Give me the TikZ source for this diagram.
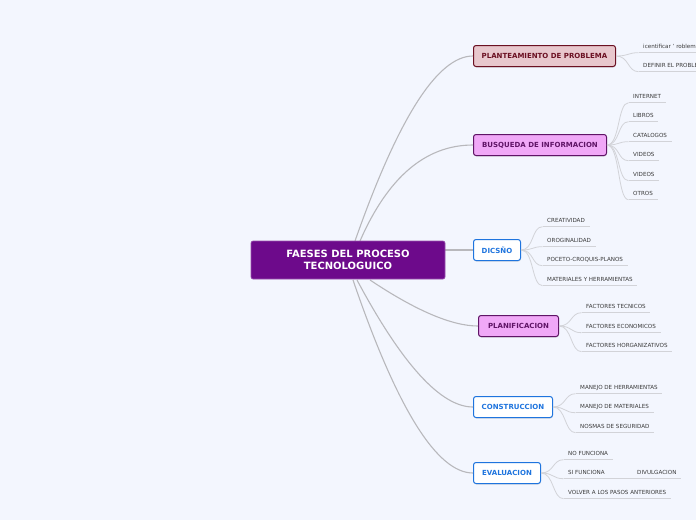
\documentclass[tikz,border=0pt]{standalone}
\usepackage{fontspec}
\setmainfont{DejaVu Sans}
\usetikzlibrary{shadows}
\definecolor{bg}{HTML}{F3F6FE}
\definecolor{centerfill}{HTML}{6D0A8B}
\definecolor{redfill}{HTML}{E8C7CD}
\definecolor{reddark}{HTML}{6B1022}
\definecolor{pinkfill}{HTML}{F0A8F7}
\definecolor{pinkdark}{HTML}{5F1466}
\definecolor{bluec}{HTML}{1E74DE}
\definecolor{mainc}{HTML}{B8B8BC}
\definecolor{subc}{HTML}{D2D3D8}
\definecolor{leafc}{HTML}{3A3A3A}
\tikzset{
  mainline/.style={draw=mainc, line width=1.1pt},
  subline/.style={draw=subc, line width=0.8pt},
  uline/.style={draw=subc, line width=0.8pt},
  branchbox/.style={rounded corners=2.5pt, line width=1pt, minimum height=21pt,
    inner xsep=1pt, inner ysep=0pt, anchor=west,
    font=\fontsize{7}{8}\selectfont\bfseries,
    drop shadow={shadow xshift=0.4pt, shadow yshift=-1pt, opacity=0.25}},
  redbox/.style={branchbox, fill=redfill, draw=reddark, text=reddark},
  pinkbox/.style={branchbox, fill=pinkfill, draw=pinkdark, text=pinkdark},
  bluebox/.style={branchbox, fill=white, draw=bluec, text=bluec},
  centerbox/.style={rounded corners=2pt, fill=centerfill, draw=centerfill!70!white, line width=0.6pt,
    text=white, align=center, font=\fontsize{10}{12}\selectfont\bfseries,
    minimum width=194pt, minimum height=38pt, inner sep=0pt},
  leaf/.style={anchor=west, inner xsep=4.5pt, inner ysep=0pt, minimum height=11pt,
    text height=4.1pt, text depth=1.2pt, font=\fontsize{5.6}{6.5}\selectfont, text=leafc,
    append after command={(\tikzlastnode.south west) edge[uline] (\tikzlastnode.south east)}},
}
\begin{document}
\begin{tikzpicture}[x=1pt,y=-1pt]
\clip (0,0) rectangle (696,520);
\fill[bg] (0,0) rectangle (696,520);

% main connectors (drawn first)
\coordinate (cN1) at (355,241);
\coordinate (cN2) at (360,241);
\coordinate (cE) at (445,250);
\coordinate (cS1) at (370,280);
\coordinate (cS2) at (357,280);
\coordinate (cS3) at (353,280);

\node[redbox, minimum width=142pt] (p1) at (473,56) {PLANTEAMIENTO DE PROBLEMA};
\node[pinkbox, minimum width=133pt] (p2) at (473,145) {BUSQUEDA DE INFORMACION};
\node[bluebox, minimum width=47pt] (p3) at (473,250) {DICSÑO};
\node[pinkbox, minimum width=80pt] (p4) at (478,326) {PLANIFICACION};
\node[bluebox, minimum width=79pt] (p5) at (473,407) {CONSTRUCCION};
\node[bluebox, minimum width=67pt] (p6) at (473,473) {EVALUACION};

\begin{scope}[on background layer/.style={}]
\draw[mainline] (cN1) .. controls +(43.3,-123.3) and +(-35.3,0) .. (p1.west);
\draw[mainline] (cN2) .. controls +(28,-64) and +(-47.3,0) .. (p2.west);
\draw[mainline] (cE) -- (p3.west);
\draw[mainline] (cS1) .. controls +(46,30.7) and +(-26,0) .. (p4.west);
\draw[mainline] (cS2) .. controls +(45.3,84.7) and +(-32,0) .. (p5.west);
\draw[mainline] (cS3) .. controls +(44,128.7) and +(-36,0) .. (p6.west);
\end{scope}

\node[centerbox] (c) at (348,260) {FAESES DEL PROCESO\\TECNOLOGUICO};

% leaves
\node[leaf] (l11) at (638.5,47) {icentificar ' roblema};
\node[leaf] (l12) at (638.5,66) {DEFINIR EL PROBLE};

\node[leaf] (l21) at (628.5,97) {INTERNET};
\node[leaf] (l22) at (628.5,116) {LIBROS};
\node[leaf] (l23) at (628.5,136) {CATALOGOS};
\node[leaf] (l24) at (628.5,155) {VIDEOS};
\node[leaf] (l25) at (628.5,175) {VIDEOS};
\node[leaf] (l26) at (628.5,194) {OTROS};

\node[leaf] (l31) at (542.5,221) {CREATIVIDAD};
\node[leaf] (l32) at (542.5,241) {OROGINALIDAD};
\node[leaf] (l33) at (542.5,260) {POCETO-CROQUIS-PLANOS};
\node[leaf] (l34) at (542.5,280) {MATERIALES Y HERRAMIENTAS};

\node[leaf] (l41) at (581.5,307) {FACTORES TECNICOS};
\node[leaf] (l42) at (581.5,327) {FACTORES ECONOMICOS};
\node[leaf] (l43) at (581.5,346) {FACTORES HORGANIZATIVOS};

\node[leaf] (l51) at (575.5,388) {MANEJO DE HERRAMIENTAS};
\node[leaf] (l52) at (575.5,407) {MANEJO DE MATERIALES};
\node[leaf] (l53) at (575.5,427) {NOSMAS DE SEGURIDAD};

\node[leaf] (l61) at (563.5,454) {NO FUNCIONA};
\node[leaf] (l62) at (563.5,473) {SI FUNCIONA};
\node[leaf] (l63) at (563.5,493) {VOLVER A LOS PASOS ANTERIORES};
\node[leaf] (l64) at (632.5,473) {DIVULGACION};

% leaf connectors
\foreach \p/\l in {p1/l11,p1/l12,p2/l21,p2/l22,p2/l23,p2/l24,p2/l25,p2/l26,
  p3/l31,p3/l32,p3/l33,p3/l34,p4/l41,p4/l42,p4/l43,p5/l51,p5/l52,p5/l53,
  p6/l61,p6/l62,p6/l63}
  \draw[subline] (\p.east) .. controls +(13,0) and +(-11,0) .. (\l.south west);
\draw[subline] (l62.south east) -- (l64.south west);
\end{tikzpicture}
\end{document}
